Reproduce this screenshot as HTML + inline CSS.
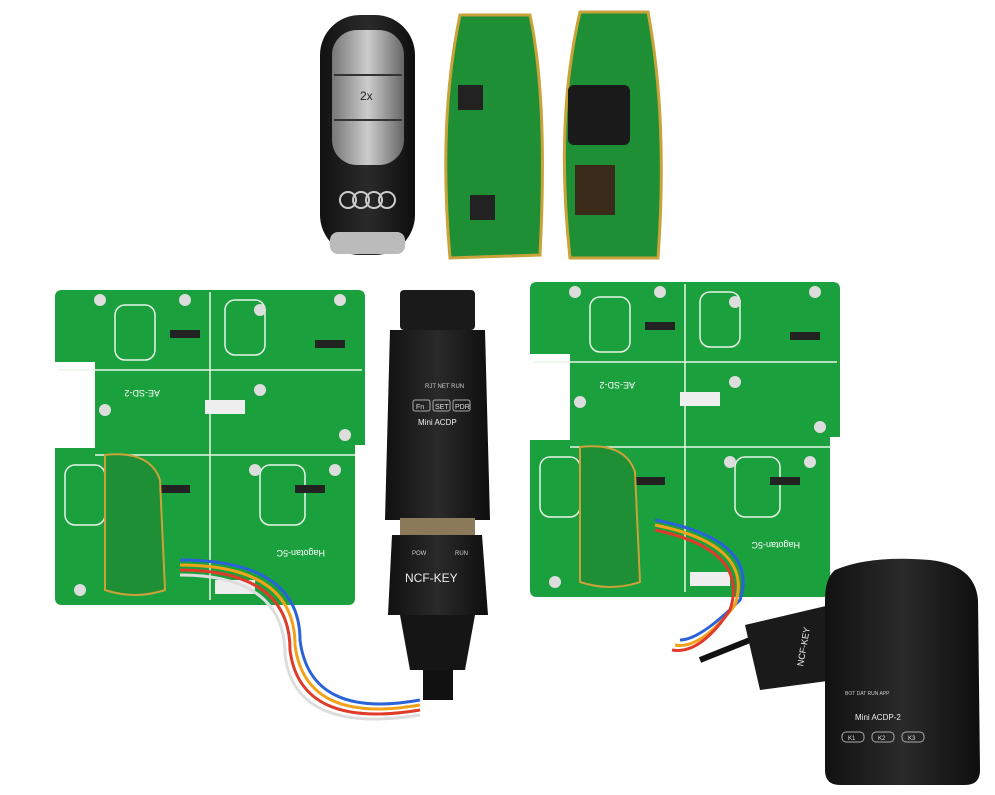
<!DOCTYPE html>
<html><head><meta charset="utf-8"><style>
html,body{margin:0;padding:0;background:#fff;}
svg{display:block;font-family:"Liberation Sans",sans-serif;}
</style></head><body>
<svg width="995" height="795" viewBox="0 0 995 795" xmlns="http://www.w3.org/2000/svg">
<defs>
<linearGradient id="blk" x1="0" y1="0" x2="1" y2="0"><stop offset="0" stop-color="#111"/><stop offset=".5" stop-color="#2a2a2a"/><stop offset="1" stop-color="#0e0e0e"/></linearGradient>
<linearGradient id="sil" x1="0" y1="0" x2="1" y2="0"><stop offset="0" stop-color="#777"/><stop offset=".5" stop-color="#ccc"/><stop offset="1" stop-color="#666"/></linearGradient>
</defs>
<!-- key fob -->
<rect x="320" y="15" width="95" height="240" rx="40" fill="url(#blk)"/>
<rect x="332" y="30" width="72" height="135" rx="25" fill="url(#sil)"/>
<line x1="334" y1="75" x2="402" y2="75" stroke="#333" stroke-width="2"/>
<line x1="334" y1="120" x2="402" y2="120" stroke="#333" stroke-width="2"/>
<text x="360" y="100" font-size="12" fill="#222">2x</text>
<g fill="none" stroke="#ccc" stroke-width="2"><circle cx="348" cy="200" r="8"/><circle cx="361" cy="200" r="8"/><circle cx="374" cy="200" r="8"/><circle cx="387" cy="200" r="8"/></g>
<rect x="330" y="232" width="75" height="22" rx="8" fill="#bbb"/>
<!-- small pcbs -->
<path d="M460 15 L530 15 Q548 100 540 255 L450 258 Q438 120 460 15Z" fill="#1f8f35" stroke="#c9a23a" stroke-width="3"/>
<path d="M580 12 L648 12 Q668 120 658 258 L570 258 Q555 120 580 12Z" fill="#1f8f35" stroke="#c9a23a" stroke-width="3"/>
<rect x="458" y="85" width="25" height="25" fill="#222"/><rect x="470" y="195" width="25" height="25" fill="#222"/>
<rect x="568" y="85" width="62" height="60" rx="6" fill="#1a1a1a"/><rect x="575" y="165" width="40" height="50" fill="#3a2a1a"/>
<!-- left board -->
<g id="board">
<path d="M62 290 H358 Q365 290 365 297 V445 H355 V598 Q355 605 348 605 H62 Q55 605 55 598 V448 H95 V362 H55 V297 Q55 290 62 290Z" fill="#1aa03d"/>
<g stroke="#e8f5e8" stroke-width="1.5" fill="none">
<line x1="210" y1="292" x2="210" y2="600"/><line x1="95" y1="455" x2="355" y2="455"/><line x1="58" y1="370" x2="362" y2="370"/>
<rect x="115" y="305" width="40" height="55" rx="10"/><rect x="225" y="300" width="40" height="55" rx="10"/><rect x="260" y="465" width="45" height="60" rx="10"/><rect x="65" y="465" width="40" height="60" rx="10"/>
</g>
<rect x="205" y="400" width="40" height="14" fill="#eee"/><rect x="215" y="580" width="40" height="14" fill="#eee"/>
<rect x="170" y="330" width="30" height="8" fill="#222"/><rect x="315" y="340" width="30" height="8" fill="#222"/><rect x="160" y="485" width="30" height="8" fill="#222"/><rect x="295" y="485" width="30" height="8" fill="#222"/>
<g fill="#ddd"><circle cx="100" cy="300" r="6"/><circle cx="185" cy="300" r="6"/><circle cx="260" cy="310" r="6"/><circle cx="340" cy="300" r="6"/><circle cx="260" cy="390" r="6"/><circle cx="345" cy="435" r="6"/><circle cx="105" cy="410" r="6"/><circle cx="255" cy="470" r="6"/><circle cx="335" cy="470" r="6"/><circle cx="80" cy="590" r="6"/></g>
<path d="M105 455 Q150 450 160 480 L165 590 Q135 600 105 590 Z" fill="#1f8f35" stroke="#c9a23a" stroke-width="2"/>
<text x="110" y="380" font-size="9" fill="#fff" transform="rotate(180 135 385)">AE-SD-2</text>
<text x="275" y="550" font-size="9" fill="#fff" transform="rotate(180 300 550)">Hagotan-5C</text>
</g>
<use href="#board" transform="translate(475,-8)"/>
<!-- cables left -->
<g fill="none" stroke-width="3">
<path d="M180 560 Q300 560 300 640 Q310 720 420 700" stroke="#2a63d8"/>
<path d="M180 565 Q295 565 295 645 Q305 725 420 705" stroke="#f2a21a"/>
<path d="M180 570 Q290 570 290 650 Q300 730 420 710" stroke="#e03a2a"/>
<path d="M180 575 Q285 575 285 655 Q295 735 420 715" stroke="#ddd"/>
</g>
<!-- adapter -->
<rect x="400" y="290" width="75" height="40" rx="4" fill="#1a1a1a"/>
<path d="M390 330 H485 L490 520 H385 Z" fill="url(#blk)"/>
<text x="425" y="388" font-size="6" fill="#ccc">RJT NET RUN</text>
<g fill="none" stroke="#aaa"><rect x="413" y="400" width="17" height="11" rx="2"/><rect x="433" y="400" width="17" height="11" rx="2"/><rect x="453" y="400" width="17" height="11" rx="2"/></g>
<text x="416" y="409" font-size="7" fill="#ddd">Fn</text><text x="435" y="409" font-size="7" fill="#ddd">SET</text><text x="455" y="409" font-size="7" fill="#ddd">PDR</text>
<text x="418" y="425" font-size="8" fill="#eee">Mini ACDP</text>
<rect x="400" y="518" width="75" height="18" fill="#8a7a5a"/>
<path d="M392 535 H482 L488 615 H388Z" fill="url(#blk)"/>
<text x="412" y="555" font-size="6" fill="#ccc">POW</text><text x="455" y="555" font-size="6" fill="#ccc">RUN</text>
<text x="405" y="582" font-size="12" fill="#eee">NCF-KEY</text>
<path d="M400 615 H475 L465 670 H410Z" fill="#151515"/>
<rect x="423" y="670" width="30" height="30" fill="#111"/>
<!-- right cables -->
<g fill="none" stroke-width="3">
<path d="M655 520 Q760 540 740 600 Q700 640 680 640" stroke="#2a63d8"/>
<path d="M655 525 Q755 545 735 605 Q700 650 675 645" stroke="#f2a21a"/>
<path d="M655 530 Q750 550 730 610 Q700 655 672 650" stroke="#e03a2a"/>
</g>
<path d="M700 660 L750 640" stroke="#111" stroke-width="6"/>
<path d="M745 625 L830 605 L835 680 L760 690 Z" fill="#1a1a1a"/>
<text x="785" y="665" font-size="9" fill="#eee" transform="rotate(-80 795 655)">NCF-KEY</text>
<!-- right device -->
<path d="M835 570 Q870 555 930 560 Q975 565 978 600 L980 770 Q980 785 965 785 H840 Q825 785 825 770 L825 600 Q825 578 835 570Z" fill="url(#blk)"/>
<text x="845" y="695" font-size="5" fill="#ccc">BOT  DAT  RUN  APP</text>
<text x="855" y="720" font-size="8" fill="#eee">Mini ACDP-2</text>
<g fill="none" stroke="#aaa"><rect x="842" y="732" width="22" height="10" rx="4"/><rect x="872" y="732" width="22" height="10" rx="4"/><rect x="902" y="732" width="22" height="10" rx="4"/></g>
<text x="848" y="740" font-size="6" fill="#ddd">K1</text><text x="878" y="740" font-size="6" fill="#ddd">K2</text><text x="908" y="740" font-size="6" fill="#ddd">K3</text>
</svg>
</body></html>
